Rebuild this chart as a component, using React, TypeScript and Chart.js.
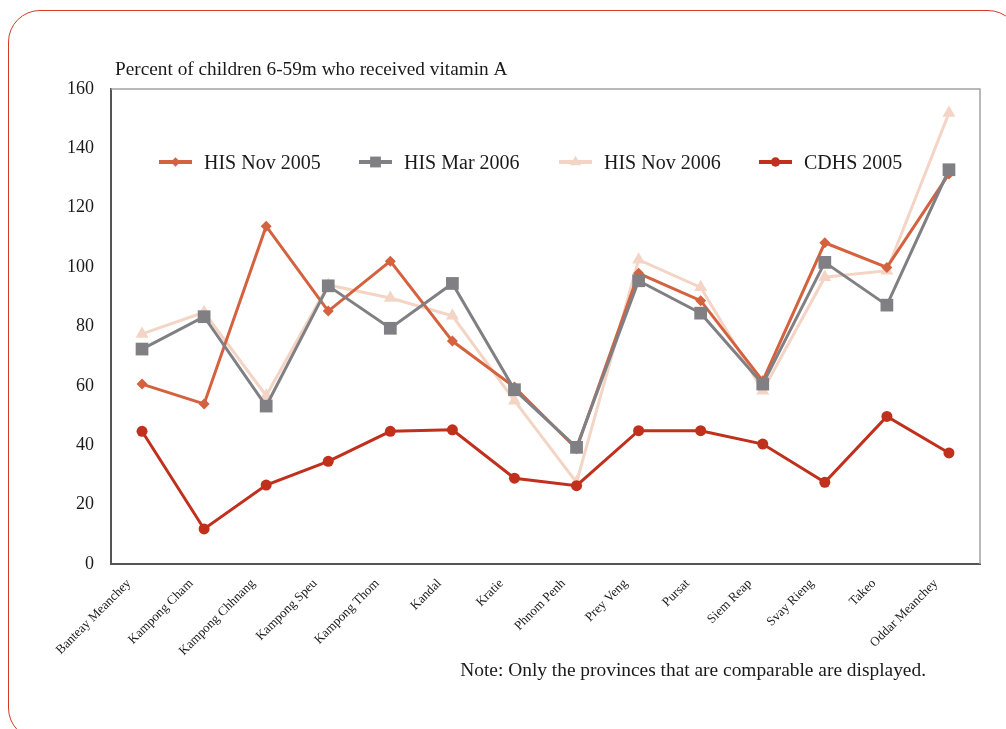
import React, { useEffect, useRef } from "react";
import { Chart, registerables } from "chart.js";

Chart.register(...registerables);

const provinces = [
  "Banteay Meanchey",
  "Kampong Cham",
  "Kampong Chhnang",
  "Kampong Speu",
  "Kampong Thom",
  "Kandal",
  "Kratie",
  "Phnom Penh",
  "Prey Veng",
  "Pursat",
  "Siem Reap",
  "Svay Rieng",
  "Takeo",
  "Oddar Meanchey",
];

const hisNov2005 = [60.6, 53.9, 113.8, 85.2, 102.0, 75.1, 59.6, 38.8, 97.9, 88.7, 61.7, 108.2, 99.9, 131.4];
const hisMar2006 = [72.4, 83.3, 53.2, 93.7, 79.4, 94.5, 58.7, 39.3, 95.4, 84.5, 60.6, 101.6, 87.2, 132.8];
const hisNov2006 = [77.5, 84.8, 56.7, 94.0, 89.6, 83.6, 55.0, 27.5, 102.5, 93.2, 58.4, 96.6, 98.8, 151.9];
const cdhs2005 = [44.7, 11.8, 26.6, 34.6, 44.7, 45.2, 28.9, 26.4, 44.9, 44.9, 40.4, 27.5, 49.7, 37.4];

const seriesLabels = ["HIS Nov 2005", "HIS Mar 2006", "HIS Nov 2006", "CDHS 2005"];

const yMin = 0;
const yMax = 160;
const yStep = 20;

const titleText = "Percent of children 6-59m who received vitamin A";
const noteText = "Note: Only the provinces that are comparable are displayed.";

const FONT = "'Liberation Serif', 'Times New Roman', serif";

function drawMarker(ctx: CanvasRenderingContext2D, style: string, x: number, y: number, r: number, color: string) {
  ctx.save();
  ctx.fillStyle = color;
  ctx.beginPath();
  if (style === "rectRot") {
    ctx.moveTo(x, y - r);
    ctx.lineTo(x + r, y);
    ctx.lineTo(x, y + r);
    ctx.lineTo(x - r, y);
    ctx.closePath();
  } else if (style === "rect") {
    const s = r * Math.SQRT1_2;
    ctx.rect(x - s, y - s, 2 * s, 2 * s);
  } else if (style === "triangle") {
    ctx.moveTo(x, y - r);
    ctx.lineTo(x + r * 0.866, y + r * 0.5);
    ctx.lineTo(x - r * 0.866, y + r * 0.5);
    ctx.closePath();
  } else {
    ctx.arc(x, y, r, 0, Math.PI * 2);
  }
  ctx.fill();
  ctx.restore();
}

export default function App() {
  const ref = useRef<HTMLCanvasElement>(null);

  useEffect(() => {
    const canvas = ref.current;
    if (!canvas) return;

    const framePlugin = {
      id: "frame",
      beforeDatasetsDraw(chart: any) {
        const { ctx, chartArea: a } = chart;
        ctx.save();
        ctx.strokeStyle = "#a3a3a3";
        ctx.lineWidth = 1.5;
        ctx.beginPath();
        ctx.moveTo(a.left, a.top);
        ctx.lineTo(a.right, a.top);
        ctx.lineTo(a.right, a.bottom);
        ctx.stroke();
        ctx.restore();
      },
    };

    const textPlugin = {
      id: "texts",
      afterDraw(chart: any) {
        const { ctx, chartArea: a } = chart;
        ctx.save();
        ctx.fillStyle = "#1a1a1a";
        ctx.textBaseline = "alphabetic";
        ctx.textAlign = "left";
        ctx.font = `19.3px ${FONT}`;
        ctx.fillText(titleText, a.left + 4, a.top - 14);
        ctx.font = `19.4px ${FONT}`;
        ctx.textAlign = "right";
        ctx.fillText(noteText, a.right - 54, a.bottom + 112);

        // legend
        ctx.textAlign = "left";
        ctx.font = `20px ${FONT}`;
        chart.data.datasets.forEach((ds: any, i: number) => {
          const x0 = a.left + 48 + i * 200;
          const y0 = a.top + 73;
          ctx.strokeStyle = ds.borderColor;
          ctx.lineWidth = 4;
          ctx.beginPath();
          ctx.moveTo(x0, y0);
          ctx.lineTo(x0 + 33, y0);
          ctx.stroke();
          drawMarker(ctx, ds.pointStyle, x0 + 16.5, y0, ds.pointRadius * 0.85, ds.pointBackgroundColor);
          ctx.fillStyle = "#1a1a1a";
          ctx.fillText(ds.label, x0 + 45, y0 + 6.5);
        });
        ctx.restore();
      },
    };

    const chart = new Chart(canvas, {
      type: "line",
      data: {
        labels: provinces,
        datasets: [
          {
            label: seriesLabels[0],
            data: hisNov2005,
            borderColor: "#d4623f",
            backgroundColor: "#d4623f",
            pointBackgroundColor: "#d4623f",
            pointBorderWidth: 0,
            pointStyle: "rectRot",
            pointRadius: 5.5,
            borderWidth: 3,
            order: 3,
          },
          {
            label: seriesLabels[1],
            data: hisMar2006,
            borderColor: "#808084",
            backgroundColor: "#808084",
            pointBackgroundColor: "#808084",
            pointBorderWidth: 0,
            pointStyle: "rect",
            pointRadius: 9,
            borderWidth: 3,
            order: 2,
          },
          {
            label: seriesLabels[2],
            data: hisNov2006,
            borderColor: "#f4d4c5",
            backgroundColor: "#f4d4c5",
            pointBackgroundColor: "#f4d4c5",
            pointBorderWidth: 0,
            pointStyle: "triangle",
            pointRadius: 7.5,
            borderWidth: 3,
            order: 4,
          },
          {
            label: seriesLabels[3],
            data: cdhs2005,
            borderColor: "#c0301c",
            backgroundColor: "#c0301c",
            pointBackgroundColor: "#c0301c",
            pointBorderWidth: 0,
            pointStyle: "circle",
            pointRadius: 5.5,
            borderWidth: 3,
            order: 1,
          },
        ],
      },
      options: {
        responsive: false,
        animation: false,
        devicePixelRatio: 1,
        layout: { padding: { left: 61, top: 89, right: 26, bottom: 65 } },
        plugins: {
          legend: { display: false },
          title: { display: false },
          tooltip: { enabled: false },
        },
        elements: { line: { tension: 0 } },
        scales: {
          x: {
            type: "category",
            offset: true,
            grid: { display: false, drawTicks: false },
            border: { display: true, color: "#555555", width: 2 },
            ticks: {
              autoSkip: false,
              minRotation: 45,
              maxRotation: 45,
              padding: 12,
              labelOffset: -13,
              color: "#1a1a1a",
              font: { family: FONT, size: 13 },
            },
            afterFit(scale: any) {
              scale.height = 100;
            },
          },
          y: {
            min: yMin,
            max: yMax,
            grid: { display: false, drawTicks: false },
            border: { display: true, color: "#555555", width: 2 },
            ticks: {
              stepSize: yStep,
              padding: 17,
              color: "#1a1a1a",
              font: { family: FONT, size: 18 },
            },
            afterFit(scale: any) {
              scale.width = 50;
            },
          },
        },
      },
      plugins: [framePlugin, textPlugin],
    } as any);

    return () => chart.destroy();
  }, []);

  return (
    <div style={{ position: "fixed", inset: 0, overflow: "hidden", background: "#ffffff" }}>
      <div
        style={{
          position: "absolute",
          left: 8,
          top: 10,
          width: 1012,
          height: 730,
          border: "1.5px solid #d13c26",
          borderRadius: 32,
          boxSizing: "border-box",
        }}
      />
      <canvas
        ref={ref}
        width={1006}
        height={729}
        style={{ position: "absolute", left: 0, top: 0, width: 1006, height: 729 }}
      />
    </div>
  );
}
